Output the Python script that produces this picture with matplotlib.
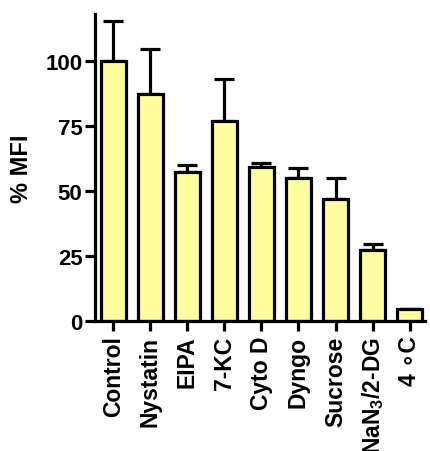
import matplotlib
matplotlib.use('Agg')
import matplotlib.pyplot as plt
import numpy as np

plt.rcParams['font.family'] = ['Liberation Sans', 'DejaVu Sans']
plt.rcParams['font.weight'] = 'bold'
plt.rcParams['mathtext.fontset'] = 'custom'
plt.rcParams['mathtext.rm'] = 'Liberation Sans:bold'
plt.rcParams['mathtext.bf'] = 'Liberation Sans:bold'

labels = ['Control', 'Nystatin', 'EIPA', '7-KC', 'Cyto D', 'Dyngo',
          'Sucrose', r'NaN$_{\mathbf{3}}$/2-DG', '4 \u2218C']
mfi = [100, 87.3, 57.2, 77, 59, 55, 47, 27.4, 4.5]
err = [15.3, 17.3, 2.8, 16, 1.8, 3.9, 8, 2.0, 0]

fig = plt.figure(figsize=(4.3, 4.52), dpi=100)
ax = fig.add_axes([0.221, 0.2876, 0.767, 0.6794])

x = np.arange(len(mfi))
ax.bar(x, mfi, width=0.67, color='#ffffa0', edgecolor='black',
       linewidth=2.3, zorder=2)
ax.errorbar(x, mfi, yerr=[np.zeros(len(err)), err], fmt='none',
            ecolor='black', elinewidth=2.3, capsize=7, capthick=2.3, zorder=1)

ax.set_xlim(-0.49, 8.41)
ax.set_ylim(0, 118)
ax.set_yticks([0, 25, 50, 75, 100])
ax.set_xticks(x)
ax.set_xticklabels(labels, rotation=90, fontsize=16.5)
ax.tick_params(axis='y', labelsize=16, width=2.3, length=7, pad=2)
ax.tick_params(axis='x', width=2.3, length=7)
ax.set_ylabel('% MFI', fontsize=17, fontweight='bold', labelpad=9)

for s in ['top', 'right']:
    ax.spines[s].set_visible(False)
for s in ['left', 'bottom']:
    ax.spines[s].set_linewidth(2.3)

fig.savefig('out.png', dpi=100)
